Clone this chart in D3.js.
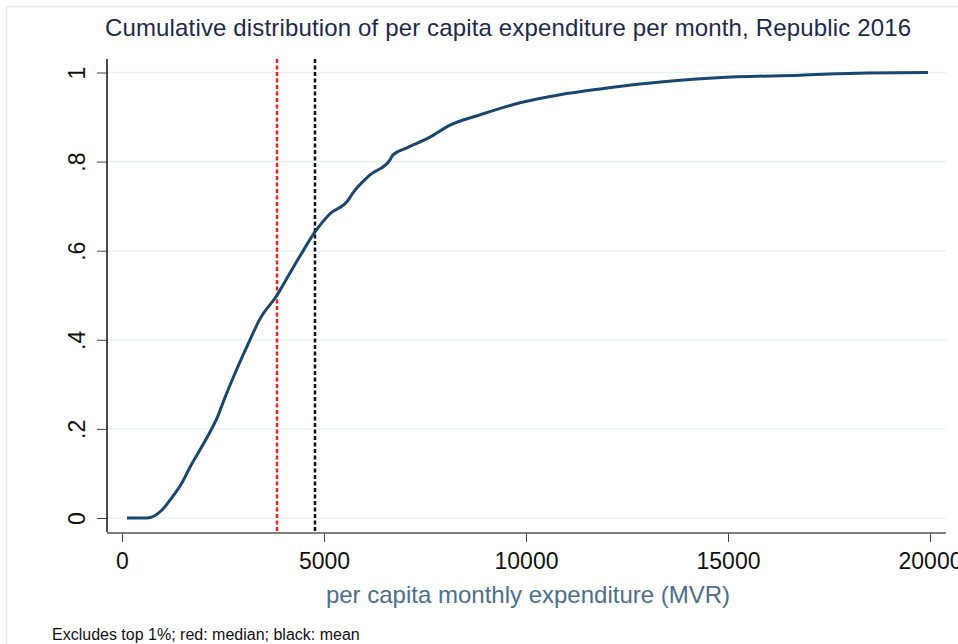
<!DOCTYPE html>
<html>
<head>
<meta charset="utf-8">
<script src="https://cdn.jsdelivr.net/npm/d3@7"></script>
<style>
    body { margin: 0; background: #fff; }
    svg { font-family: "Liberation Sans", Arial, sans-serif; }
</style>
</head>
<body>
<div id="chart"></div>
<script>
// chart data
const expenditure = [124, 619, 990, 1188, 1485, 1683, 1931, 2178, 2351, 2525, 2846, 3168, 3416, 3837,
    4158, 4406, 4777, 5149, 5569, 5718, 6139, 6634, 6708, 7054, 7624, 8119, 8861, 9851, 10842,
    11832, 12822, 14728, 16782, 18441, 19950];
const cumShare = [0, 0, 0.018, 0.040, 0.079, 0.114, 0.153, 0.193, 0.224, 0.265, 0.335, 0.40, 0.447, 0.50,
    0.55, 0.588, 0.642, 0.683, 0.710, 0.730, 0.770, 0.804, 0.815, 0.831, 0.855, 0.882, 0.905, 0.932, 0.950,
    0.963, 0.974, 0.988, 0.994, 0.999, 1.0];
const medianValue = 3837;
const meanValue = 4777;
const xTicks = [0, 5000, 10000, 15000, 20000];
const yTicks = [0, 0.2, 0.4, 0.6, 0.8, 1];
const yTickLabels = ["0", ".2", ".4", ".6", ".8", "1"];

const width = 958, height = 644;

// plot area box
const plot = {left: 107, right: 946, top: 59, bottom: 532};

const svg = d3.select("#chart").append("svg")
    .attr("width", width)
    .attr("height", height);

// outer frame
svg.append("rect")
    .attr("x", 6.5).attr("y", 6.5)
    .attr("width", width + 10).attr("height", height + 10)
    .attr("fill", "none")
    .attr("stroke", "#e6ecef")
    .attr("stroke-width", 1.5);

const x = d3.scaleLinear().domain([0, 20000]).range([122, 930]);
const y = d3.scaleLinear().domain([0, 1]).range([518, 72.5]);

// gridlines
svg.selectAll(".grid")
    .data(yTicks)
    .enter().append("line")
    .attr("class", "grid")
    .attr("x1", plot.left).attr("x2", plot.right)
    .attr("y1", d => y(d)).attr("y2", d => y(d))
    .attr("stroke", "#eaf1f3")
    .attr("stroke-width", 1.5);

// y axis
const yAxis = svg.append("g")
    .attr("transform", `translate(${plot.left},0)`)
    .call(d3.axisLeft(y).tickValues(yTicks).tickSize(10).tickFormat((d, i) => yTickLabels[i]));
yAxis.select(".domain").remove();
yAxis.selectAll(".tick line").attr("stroke", "#444");
yAxis.selectAll(".tick text")
    .attr("font-size", 23)
    .attr("fill", "#111")
    .attr("x", 0).attr("dy", 0)
    .attr("text-anchor", "middle")
    .attr("transform", "translate(-22,0) rotate(-90)");
svg.append("line")
    .attr("x1", plot.left).attr("x2", plot.left)
    .attr("y1", plot.top).attr("y2", plot.bottom)
    .attr("stroke", "#111").attr("stroke-width", 1.5);

// x axis
const xAxis = svg.append("g")
    .attr("transform", `translate(0,${plot.bottom + 1})`)
    .call(d3.axisBottom(x).tickValues(xTicks).tickSize(9).tickFormat(d3.format("d")));
xAxis.select(".domain").remove();
xAxis.selectAll(".tick line").attr("stroke", "#444");
xAxis.selectAll(".tick text")
    .attr("font-size", 23)
    .attr("fill", "#111")
    .attr("y", 20).attr("dy", "0.71em");
svg.append("line")
    .attr("x1", plot.left).attr("x2", plot.right)
    .attr("y1", plot.bottom + 1).attr("y2", plot.bottom + 1)
    .attr("stroke", "#555").attr("stroke-width", 1.5);

// median and mean reference lines
svg.selectAll(".ref")
    .data([{v: medianValue, c: "#ff1a1a"}, {v: meanValue, c: "#111"}])
    .enter().append("line")
    .attr("class", "ref")
    .attr("x1", d => x(d.v)).attr("x2", d => x(d.v))
    .attr("y1", plot.top).attr("y2", plot.bottom)
    .attr("stroke", d => d.c)
    .attr("stroke-width", 2.5)
    .attr("stroke-dasharray", "4,2.5");

// cumulative distribution
const cdf = expenditure.map((v, i) => ({v: v, p: cumShare[i]}));
svg.append("path")
    .datum(cdf)
    .attr("d", d3.line().curve(d3.curveMonotoneX).x(d => x(d.v)).y(d => y(d.p)))
    .attr("fill", "none")
    .attr("stroke", "#1a476f")
    .attr("stroke-width", 3)
    .attr("stroke-linejoin", "round");

// titles
svg.append("text")
    .attr("x", 508).attr("y", 36)
    .attr("text-anchor", "middle")
    .attr("font-size", 24)
    .attr("textLength", 806)
    .attr("fill", "#1e2a4d")
    .text("Cumulative distribution of per capita expenditure per month, Republic 2016");

svg.append("text")
    .attr("x", 528).attr("y", 603)
    .attr("text-anchor", "middle")
    .attr("font-size", 24)
    .attr("fill", "#4b6f8c")
    .text("per capita monthly expenditure (MVR)");

svg.append("text")
    .attr("x", 52).attr("y", 640)
    .attr("font-size", 16)
    .attr("fill", "#111")
    .text("Excludes top 1%; red: median; black: mean");
</script>
</body>
</html>
